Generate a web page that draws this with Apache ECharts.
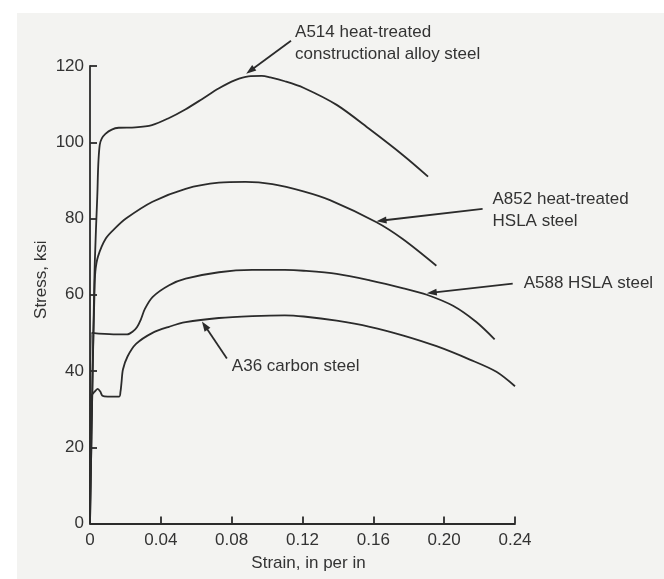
<!DOCTYPE html>
<html><head><meta charset="utf-8">
<script src="https://cdn.jsdelivr.net/npm/echarts@6/dist/echarts.min.js"></script>
<style>html,body{margin:0;padding:0;background:#f3f3f1}#c{width:664px;height:579px}</style>
</head><body><div id="c"></div>
<script>
// ---- Data (strain in/in, stress ksi) ----
const xTickValues = [0, 0.04, 0.08, 0.12, 0.16, 0.20, 0.24];
const yTickValues = [0, 20, 40, 60, 80, 100, 120];

const a514Strain = [0, 0.0015, 0.0023, 0.0027, 0.0041, 0.0055, 0.0087, 0.0162, 0.0256, 0.035, 0.0444, 0.0538, 0.0632, 0.0726, 0.082, 0.0895, 0.097, 0.1018, 0.110, 0.1205, 0.1393, 0.158, 0.1768, 0.1909];
const a514Stress = [0, 40, 60, 68.4, 85.7, 99.3, 102.2, 103.8, 103.9, 104.5, 106.3, 108.6, 111.3, 114.1, 116.3, 117.3, 117.4, 117.0, 116.0, 114.3, 109.8, 103.4, 96.6, 91.0];

const a852Strain = [0, 0.0015, 0.0025, 0.003, 0.0045, 0.009, 0.0145, 0.0203, 0.0353, 0.054, 0.0728, 0.0878, 0.103, 0.1205, 0.1355, 0.1618, 0.1766, 0.1956];
const a852Stress = [0, 40, 60, 66, 70, 74.8, 77.6, 80.0, 84.4, 87.8, 89.4, 89.6, 89.0, 87.1, 84.8, 79.0, 74.6, 67.6];

const a588Strain = [0, 0.001, 0.005, 0.015, 0.021, 0.024, 0.0265, 0.0287, 0.031, 0.0353, 0.0447, 0.054, 0.0728, 0.0916, 0.110, 0.1207, 0.1393, 0.158, 0.177, 0.1902, 0.205, 0.218, 0.2285];
const a588Stress = [0, 50, 49.8, 49.6, 49.6, 50.3, 51.5, 53.5, 56.3, 59.4, 62.5, 64.2, 65.9, 66.5, 66.5, 66.3, 65.5, 63.8, 61.7, 60.0, 57.1, 52.9, 48.3];

const a36Strain = [0, 0.001, 0.0025, 0.0043, 0.0058, 0.007, 0.010, 0.0165, 0.0172, 0.0178, 0.0186, 0.0212, 0.026, 0.0353, 0.0447, 0.054, 0.0728, 0.0916, 0.110, 0.1207, 0.1393, 0.158, 0.177, 0.1957, 0.2145, 0.2295, 0.24];
const a36Stress = [0, 33.6, 34.5, 35.3, 34.6, 33.5, 33.3, 33.3, 34.5, 37, 40.4, 43.8, 47.1, 50, 51.6, 52.8, 53.9, 54.4, 54.6, 54.3, 53.2, 51.6, 49.3, 46.5, 43, 39.8, 36];

// annotation anchors in data coordinates
const annotations = [
  {text: 'A514 heat-treated\nconstructional alloy steel', tip: [0.0882, 118.0], tail: [0.1135, 126.6], at: [0.1158, 126.0]},
  {text: 'A852 heat-treated\nHSLA steel', tip: [0.1618, 79.3], tail: [0.2217, 82.5], at: [0.2273, 82.2]},
  {text: 'A588 HSLA steel', tip: [0.1902, 60.4], tail: [0.2387, 62.9], at: [0.2449, 62.9]},
  {text: 'A36 carbon steel', tip: [0.0632, 53.0], tail: [0.0773, 43.3], at: [0.0801, 41.25]}
];

const zip = (xs, ys) => xs.map((x, i) => [x, ys[i]]);
const FONT = '"Liberation Sans", Arial, sans-serif';
const INK = '#2b2b2b';
const TXT = '#333333';

const chart = echarts.init(document.getElementById('c'), null, {renderer: 'canvas'});
const lineStyle = {color: INK, width: 1.8};
const mk = (name, xs, ys) => ({
  name, type: 'line', data: zip(xs, ys), showSymbol: false, symbol: 'none',
  smooth: 0.3, lineStyle, silent: true, clip: false, z: 3
});

chart.setOption({
  backgroundColor: '#f3f3f1',
  animation: false,
  grid: {left: 90, right: 149, top: 66, bottom: 55.5},
  xAxis: {
    type: 'value', min: 0, max: 0.24, interval: 0.04,
    name: 'Strain, in per in', nameLocation: 'middle', nameGap: 31,
    nameTextStyle: {fontFamily: FONT, fontSize: 17, color: TXT, padding: [0, 0, 0, 12]},
    axisLine: {lineStyle: {color: INK, width: 1.8}},
    axisTick: {inside: true, length: 7, lineStyle: {color: INK, width: 1.8}},
    axisLabel: {fontFamily: FONT, fontSize: 17, color: TXT, margin: 8,
      formatter: v => { const m = xTickValues.find(t => Math.abs(t - v) < 1e-9); const val = m === undefined ? v : m; return val === 0 ? '0' : val.toFixed(2); }},
    splitLine: {show: false}
  },
  yAxis: {
    type: 'value', min: 0, max: 120, interval: 20,
    name: 'Stress, ksi', nameLocation: 'middle', nameGap: 40, nameMoveOverlap: false,
    nameTextStyle: {fontFamily: FONT, fontSize: 17, color: TXT, padding: [0, 0, 0, 30]},
    axisLine: {show: true, lineStyle: {color: INK, width: 1.8}},
    axisTick: {show: true, inside: true, length: 7, lineStyle: {color: INK, width: 1.8}},
    axisLabel: {fontFamily: FONT, fontSize: 17, color: TXT, margin: 6,
      formatter: v => String(yTickValues.find(t => Math.abs(t - v) < 1e-9) ?? v)},
    splitLine: {show: false}
  },
  series: [
    mk('A514', a514Strain, a514Stress),
    mk('A852', a852Strain, a852Stress),
    mk('A588', a588Strain, a588Stress),
    mk('A36', a36Strain, a36Stress)
  ]
});

function buildAnnotations() {
  const g = [
    {type: 'rect', shape: {x: 0, y: 0, width: 664, height: 13}, style: {fill: '#ffffff'}, z: -10, silent: true},
    {type: 'rect', shape: {x: 0, y: 0, width: 17, height: 579}, style: {fill: '#ffffff'}, z: -10, silent: true}
  ];
  annotations.forEach(a => {
    const tip = chart.convertToPixel({gridIndex: 0}, a.tip);
    const tail = chart.convertToPixel({gridIndex: 0}, a.tail);
    const at = chart.convertToPixel({gridIndex: 0}, a.at);
    const dx = tip[0] - tail[0], dy = tip[1] - tail[1];
    const len = Math.hypot(dx, dy);
    const ux = dx / len, uy = dy / len, nx = -uy, ny = ux;
    const L = 10, W = 7;
    const bx = tip[0] - ux * L, by = tip[1] - uy * L;
    g.push({type: 'line', shape: {x1: tail[0], y1: tail[1], x2: bx + ux * 2, y2: by + uy * 2},
      style: {stroke: INK, lineWidth: 1.8}, z: 5, silent: true});
    g.push({type: 'polygon', shape: {points: [tip, [bx + nx * W / 2, by + ny * W / 2], [bx - nx * W / 2, by - ny * W / 2]]},
      style: {fill: INK}, z: 5, silent: true});
    g.push({type: 'text', x: at[0], y: at[1], z: 5, silent: true,
      style: {text: a.text, fontFamily: FONT, fontSize: 17, fill: TXT, align: 'left', verticalAlign: 'middle', lineHeight: 22}});
  });
  chart.setOption({graphic: g});
}
buildAnnotations();
</script></body></html>
